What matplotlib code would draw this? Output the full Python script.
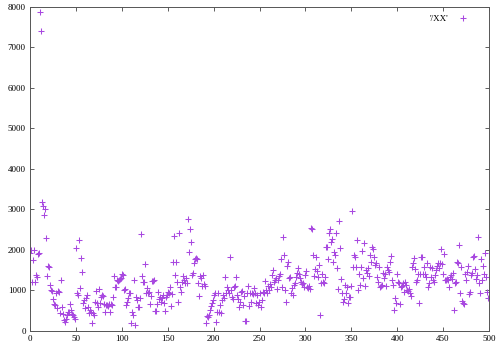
import numpy as np
import matplotlib
matplotlib.use("Agg")
import matplotlib.pyplot as plt

plt.rcParams['font.family'] = ['Liberation Serif', 'DejaVu Serif']

series_label = "'/XX'"
y_values = [
    1915, 2000, 1215, 1750, 2000, 1215, 1380, 1320, 1900, 1915,
    7860, 7400, 3180, 3090, 2860, 3000, 2290, 1365, 1610, 1570,
    1135, 1010, 995, 790, 660, 640, 945, 560, 985, 970,
    435, 1260, 585, 420, 270, 230, 290, 395, 475, 460,
    665, 520, 410, 395, 335, 290, 2055, 930, 890, 2245,
    1050, 1790, 1460, 680, 765, 560, 805, 890, 600, 435,
    520, 460, 205, 435, 395, 725, 995, 680, 585, 1030,
    680, 845, 890, 865, 660, 475, 640, 640, 615, 665,
    475, 665, 640, 845, 1355, 1075, 1075, 1260, 1235, 1260,
    1280, 1300, 1405, 1380, 1010, 1030, 640, 725, 805, 945,
    930, 205, 475, 395, 1260, 150, 845, 765, 600, 600,
    805, 2385, 1355, 1215, 1215, 1650, 930, 1050, 930, 970,
    665, 865, 1240, 1240, 1260, 500, 500, 665, 970, 780,
    845, 725, 805, 890, 680, 500, 845, 890, 970, 930,
    1075, 615, 910, 1710, 2340, 1380, 1710, 1215, 725, 2410,
    1090, 970, 1215, 1355, 1260, 1190, 1300, 1175, 2755, 1955,
    2505, 2205, 1380, 1420, 1670, 1770, 1790, 1770, 1175, 865,
    1355, 1300, 1110, 1370, 1160, 1110, 205, 370, 355, 395,
    520, 615, 680, 765, 890, 930, 230, 475, 930, 475,
    640, 435, 765, 890, 805, 1340, 930, 1090, 1010, 945,
    1835, 1010, 845, 780, 1090, 1110, 1340, 890, 780, 585,
    725, 970, 995, 640, 865, 255, 255, 945, 1110, 615,
    945, 725, 930, 910, 1050, 930, 680, 890, 640, 725,
    930, 600, 765, 970, 945, 1240, 1010, 930, 1110, 1010,
    1160, 1090, 1380, 1505, 1215, 1260, 1300, 1030, 1260, 1355,
    1405, 1770, 1090, 2325, 1875, 1010, 725, 1600, 1710, 1300,
    1320, 930, 1050, 890, 1135, 1190, 1320, 1420, 1545, 1405,
    1300, 1215, 1160, 1175, 1090, 1380, 1490, 1090, 1050, 1110,
    1030, 2530, 2515, 1875, 1355, 1520, 1815, 1490, 1340, 1630,
    395, 1190, 1405, 1215, 1175, 1340, 2080, 2065, 1770, 2410,
    2505, 2205, 2260, 1710, 1955, 1875, 2425, 1545, 1030, 2720,
    2040, 1275, 930, 725, 780, 1135, 930, 1090, 700, 845,
    845, 1110, 2965, 1585, 1875, 1835, 1570, 2245, 1010, 1405,
    1135, 1585, 1980, 1300, 2160, 1110, 1505, 1420, 1545, 1355,
    1875, 1710, 2065, 2015, 1835, 1630, 1685, 1320, 1215, 1585,
    1090, 1110, 1135, 1420, 1300, 1405, 1110, 1585, 1505, 1460,
    1710, 1850, 1260, 1135, 520, 805, 680, 1405, 1215, 1175,
    665, 1075, 1110, 1190, 970, 1215, 1135, 1010, 995, 1030,
    930, 865, 1585, 1670, 1790, 1520, 1215, 1260, 1405, 680,
    1405, 1835, 1835, 1405, 1585, 1405, 1340, 1685, 1090, 1175,
    1570, 1340, 1545, 1260, 1215, 1380, 1505, 1600, 1670, 1545,
    1670, 2015, 1650, 1405, 1900, 1260, 1260, 1275, 1260, 1090,
    1340, 1380, 1275, 1420, 520, 1190, 1215, 1710, 1670, 2120,
    945, 1585, 750, 700, 665, 1405, 1260, 1460, 1600, 910,
    970, 1380, 1420, 1835, 1850, 1520, 1275, 1380, 2325, 1190,
    930, 1770, 1260, 1600, 1405, 1915, 1340, 970, 805,
]
x_ticks = [0, 50, 100, 150, 200, 250, 300, 350, 400, 450, 500]
y_ticks = [0, 1000, 2000, 3000, 4000, 5000, 6000, 7000, 8000]

n = len(y_values)
x_values = np.arange(n) * 499.0 / (n - 1)

fig = plt.figure(figsize=(5.0, 3.53), dpi=100)
ax = fig.add_axes([0.06, 0.0623, 0.918, 0.9187])
ax.plot(x_values, y_values, linestyle='none', marker='+', color='#a848e0',
        markersize=4.5, markeredgewidth=0.75, label=series_label)
ax.set_xlim(0, 500)
ax.set_ylim(0, 8000)
ax.set_xticks(x_ticks)
ax.set_yticks(y_ticks)
ax.tick_params(direction='in', top=True, right=True, labelsize=6.5,
               length=3, width=0.6, pad=3, color='#444444')
for s in ax.spines.values():
    s.set_linewidth(0.7)
    s.set_color('#555555')
leg = ax.legend(loc='upper right', frameon=False, fontsize=6.5,
                handlelength=1.5, markerfirst=False, borderaxespad=0.5,
                bbox_to_anchor=(0.975, 1.0))
fig.savefig('out.png', dpi=100)
